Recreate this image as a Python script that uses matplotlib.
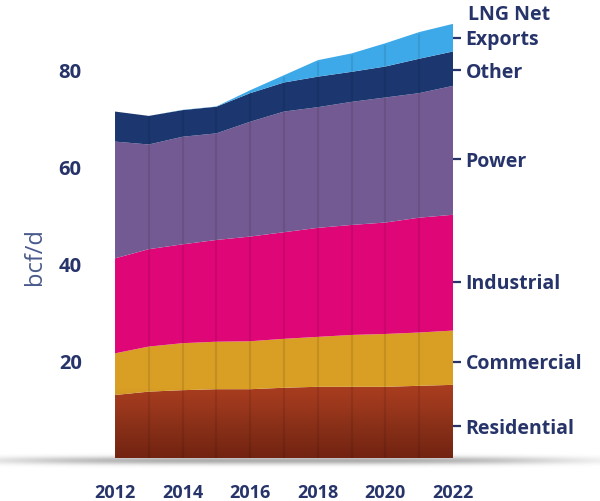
import numpy as np
import matplotlib
matplotlib.use('Agg')
import matplotlib.pyplot as plt
from matplotlib.colors import LinearSegmentedColormap

plt.rcParams['font.family'] = ['Open Sans', 'DejaVu Sans']

# consumption by sector, bcf/d (stacked, bottom to top)
years = [2012, 2013, 2014, 2015, 2016, 2017, 2018, 2019, 2020, 2021, 2022]
residential = [13.0, 13.7, 14.0, 14.2, 14.2, 14.5, 14.7, 14.7, 14.7, 14.9, 15.1]
commercial = [8.6, 9.3, 9.7, 9.8, 9.9, 10.1, 10.3, 10.7, 10.9, 11.0, 11.2]
industrial = [19.6, 20.1, 20.4, 21.0, 21.6, 22.0, 22.5, 22.7, 23.0, 23.7, 23.9]
power = [24.1, 21.6, 22.2, 22.0, 23.7, 24.9, 24.9, 25.4, 25.8, 25.7, 26.6]
other = [6.2, 5.9, 5.5, 5.5, 5.9, 6.0, 6.3, 6.2, 6.4, 7.1, 7.1]
lng_exports = [0.0, 0.0, 0.05, 0.05, 0.6, 1.5, 3.4, 3.8, 4.8, 5.5, 5.7]

sector_names = ['Residential', 'Commercial', 'Industrial', 'Power', 'Other', 'Exports']
sector_colors = ['#a83c1f', '#d99e24', '#df0778', '#745a92', '#1c3770', '#3ea9e9']
label_values = [6.6, 19.9, 36.4, 61.7, 80.0, 86.7]

year_ticks = [2012, 2014, 2016, 2018, 2020, 2022]
value_ticks = [20, 40, 60, 80]

navy = '#27346a'

fig = plt.figure(figsize=(6.0, 5.01), dpi=100)

# soft grey shadow under the base of the chart
bg = fig.add_axes([0, 0, 1, 1], zorder=-1)
bg.axis('off')
xx, yy = np.meshgrid(np.arange(600), np.arange(501))
shade = 0.32 * np.exp(-((xx - 284) / 280.0) ** 4) * np.exp(-((yy - 460) / 4.0) ** 2)
rgba = np.zeros((501, 600, 4))
rgba[..., 3] = shade
bg.imshow(rgba, extent=[0, 600, 501, 0], aspect='auto')
bg.set_xlim(0, 600)
bg.set_ylim(501, 0)

ax = fig.add_axes([0.1917, 0.0858, 0.5633, 0.914])
ax.patch.set_visible(False)
ax.stackplot(years, residential, commercial, industrial, power, other, lng_exports,
             colors=sector_colors, linewidth=0)

# darken towards the base
fade = LinearSegmentedColormap.from_list('fade', [(0, 0, 0, 0), (0.2, 0.02, 0, 0.45)])
grad = np.linspace(0, 1, 100).reshape(-1, 1) ** 1.3
ax.imshow(grad, extent=[years[0], years[-1], 0, 15], origin='upper',
          cmap=fade, aspect='auto', zorder=3)

# faint column stripes at each year
total = np.sum([residential, commercial, industrial, power, other, lng_exports], axis=0)
ax.vlines(years[1:-1], 0, total[1:-1] - 0.3, color='black', alpha=0.09, linewidth=1.5, zorder=4)

ax.set_xlim(years[0], years[-1])
ax.set_ylim(0, 94.5)
for s in ax.spines.values():
    s.set_visible(False)

ax.set_xticks(year_ticks)
ax.set_xticklabels([str(y) for y in year_ticks], fontsize=13, fontweight='bold', color=navy)
ax.set_yticks(value_ticks)
ax.set_yticklabels([str(v) for v in value_ticks], fontsize=14.5, fontweight='bold', color=navy)
ax.tick_params(axis='x', length=0, pad=19)
ax.tick_params(axis='y', length=0, pad=24)
ax.set_ylabel('bcf/d', fontsize=17, color='#4a5a8c')
ax.yaxis.set_label_coords(-0.20, 0.44)

ax2 = ax.twinx()
ax2.set_ylim(ax.get_ylim())
for s in ax2.spines.values():
    s.set_visible(False)
ax2.set_yticks(label_values)
ax2.set_yticklabels(sector_names, fontsize=14, fontweight='bold', color=navy)
ax2.tick_params(axis='y', length=6, width=1.6, color=navy, pad=3)
ax2.annotate('LNG Net', xy=(1, label_values[-1]), xycoords=('axes fraction', 'data'),
             xytext=(10.5, 16.5), textcoords='offset points', ha='left', va='center',
             fontsize=14, fontweight='bold', color=navy)

fig.savefig('out.png', dpi=100)
